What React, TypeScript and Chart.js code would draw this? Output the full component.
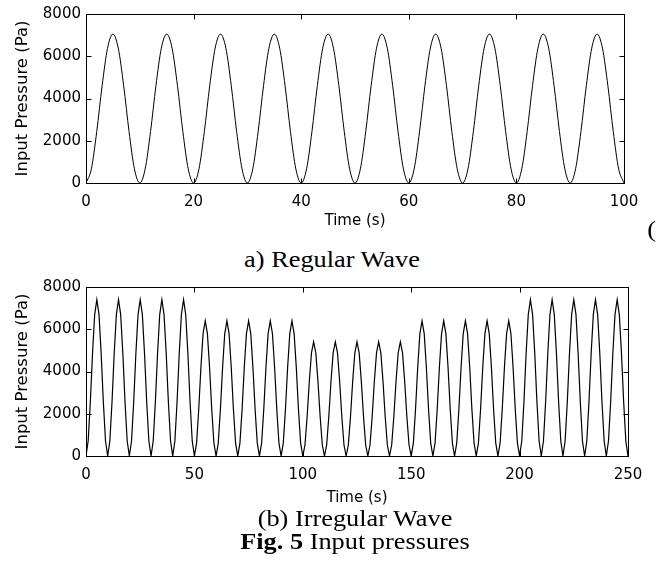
import React, { useEffect, useRef } from 'react';
import { Chart, registerables } from 'chart.js';

Chart.register(...registerables);

// ---------- data ----------
const regularTime: number[] = Array.from({ length: 101 }, (_, i) => i); // seconds, 1 s sampling
const regularPressure: number[] = [
  0, 670, 2440, 4610, 6380, 7050, 6380, 4610, 2440, 670,
  0, 670, 2440, 4610, 6380, 7050, 6380, 4610, 2440, 670,
  0, 670, 2440, 4610, 6380, 7050, 6380, 4610, 2440, 670,
  0, 670, 2440, 4610, 6380, 7050, 6380, 4610, 2440, 670,
  0, 670, 2440, 4610, 6380, 7050, 6380, 4610, 2440, 670,
  0, 670, 2440, 4610, 6380, 7050, 6380, 4610, 2440, 670,
  0, 670, 2440, 4610, 6380, 7050, 6380, 4610, 2440, 670,
  0, 670, 2440, 4610, 6380, 7050, 6380, 4610, 2440, 670,
  0, 670, 2440, 4610, 6380, 7050, 6380, 4610, 2440, 670,
  0, 670, 2440, 4610, 6380, 7050, 6380, 4610, 2440, 670,
  0,
];

const irregularTime: number[] = Array.from({ length: 251 }, (_, i) => i); // seconds, 1 s sampling
const irregularPressure: number[] = [
  0, 710, 2560, 4840, 6690, 7400, 6690, 4840, 2560, 710,
  0, 710, 2560, 4840, 6690, 7400, 6690, 4840, 2560, 710,
  0, 710, 2560, 4840, 6690, 7400, 6690, 4840, 2560, 710,
  0, 710, 2560, 4840, 6690, 7400, 6690, 4840, 2560, 710,
  0, 710, 2560, 4840, 6690, 7400, 6690, 4840, 2560, 710,
  0, 610, 2210, 4190, 5790, 6400, 5790, 4190, 2210, 610,
  0, 610, 2210, 4190, 5790, 6400, 5790, 4190, 2210, 610,
  0, 610, 2210, 4190, 5790, 6400, 5790, 4190, 2210, 610,
  0, 610, 2210, 4190, 5790, 6400, 5790, 4190, 2210, 610,
  0, 610, 2210, 4190, 5790, 6400, 5790, 4190, 2210, 610,
  0, 520, 1870, 3530, 4880, 5400, 4880, 3530, 1870, 520,
  0, 520, 1870, 3530, 4880, 5400, 4880, 3530, 1870, 520,
  0, 520, 1870, 3530, 4880, 5400, 4880, 3530, 1870, 520,
  0, 520, 1870, 3530, 4880, 5400, 4880, 3530, 1870, 520,
  0, 520, 1870, 3530, 4880, 5400, 4880, 3530, 1870, 520,
  0, 610, 2210, 4190, 5790, 6400, 5790, 4190, 2210, 610,
  0, 610, 2210, 4190, 5790, 6400, 5790, 4190, 2210, 610,
  0, 610, 2210, 4190, 5790, 6400, 5790, 4190, 2210, 610,
  0, 610, 2210, 4190, 5790, 6400, 5790, 4190, 2210, 610,
  0, 610, 2210, 4190, 5790, 6400, 5790, 4190, 2210, 610,
  0, 710, 2560, 4840, 6690, 7400, 6690, 4840, 2560, 710,
  0, 710, 2560, 4840, 6690, 7400, 6690, 4840, 2560, 710,
  0, 710, 2560, 4840, 6690, 7400, 6690, 4840, 2560, 710,
  0, 710, 2560, 4840, 6690, 7400, 6690, 4840, 2560, 710,
  0, 710, 2560, 4840, 6690, 7400, 6690, 4840, 2560, 710,
  0,
];

const regularXTicks: number[] = [0, 20, 40, 60, 80, 100];
const irregularXTicks: number[] = [0, 50, 100, 150, 200, 250];
const pressureTicks: number[] = [0, 2000, 4000, 6000, 8000];

const xTitle = 'Time (s)';
const yTitle = 'Input Pressure (Pa)';

// ---------- MATLAB-like box with inward ticks ----------
const boxTicksPlugin = {
  id: 'boxTicks',
  afterDraw(chart: any) {
    const { ctx, chartArea, scales } = chart;
    const L = Math.round(chartArea.left) + 0.5;
    const R = Math.round(chartArea.right) + 0.5;
    const T = Math.round(chartArea.top) + 0.5;
    const B = Math.round(chartArea.bottom) + 0.5;
    const len = 5;
    ctx.save();
    ctx.strokeStyle = '#000';
    ctx.lineWidth = 1;
    ctx.strokeRect(L, T, R - L, B - T);
    ctx.beginPath();
    scales.x.ticks.forEach((t: any) => {
      const px = Math.round(scales.x.getPixelForValue(t.value)) + 0.5;
      ctx.moveTo(px, B);
      ctx.lineTo(px, B - len);
      ctx.moveTo(px, T);
      ctx.lineTo(px, T + len);
    });
    scales.y.ticks.forEach((t: any) => {
      const py = Math.round(scales.y.getPixelForValue(t.value)) + 0.5;
      ctx.moveTo(L, py);
      ctx.lineTo(L + len, py);
      ctx.moveTo(R, py);
      ctx.lineTo(R - len, py);
    });
    ctx.stroke();
    ctx.restore();
  },
};

const FONT = 'DejaVu Sans';

interface WaveProps {
  times: number[];
  values: number[];
  xTicks: number[];
  top: number;
  height: number;
  rightPad: number;
  titlePadBottom: number;
  smooth: boolean;
}

function WaveChart({ times, values, xTicks, top, height, rightPad, titlePadBottom, smooth }: WaveProps) {
  const ref = useRef<HTMLCanvasElement>(null);
  useEffect(() => {
    if (!ref.current) return;
    const chart = new Chart(ref.current, {
      type: 'line',
      data: {
        datasets: [
          {
            data: times.map((t, i) => ({ x: t, y: values[i] })),
            borderColor: '#000',
            borderWidth: smooth ? 1 : 1.2,
            pointRadius: 0,
            fill: false,
            tension: 0,
            cubicInterpolationMode: smooth ? 'monotone' : 'default',
          },
        ],
      },
      options: {
        animation: false,
        responsive: false,
        devicePixelRatio: 1,
        events: [],
        layout: { padding: { top: 13, right: rightPad, left: 0, bottom: 0 } },
        plugins: { legend: { display: false }, tooltip: { enabled: false } },
        scales: {
          x: {
            type: 'linear',
            min: xTicks[0],
            max: xTicks[xTicks.length - 1],
            afterBuildTicks: (s: any) => {
              s.ticks = xTicks.map((v) => ({ value: v }));
            },
            grid: { display: false, drawTicks: false },
            border: { display: false },
            ticks: {
              color: '#000',
              font: { family: FONT, size: 15 },
              padding: 10,
              maxRotation: 0,
              autoSkip: false,
              callback: (v: any) => String(v),
            },
            title: {
              display: true,
              text: xTitle,
              color: '#000',
              font: { family: FONT, size: 15 },
              padding: { top: 0, bottom: titlePadBottom },
            },
            afterFit: (s: any) => {
              s.height = 57;
            },
          },
          y: {
            type: 'linear',
            min: pressureTicks[0],
            max: pressureTicks[pressureTicks.length - 1],
            afterBuildTicks: (s: any) => {
              s.ticks = pressureTicks.map((v) => ({ value: v }));
            },
            grid: { display: false, drawTicks: false },
            border: { display: false },
            ticks: {
              color: '#000',
              font: { family: FONT, size: 15 },
              padding: 5,
              autoSkip: false,
              callback: (v: any) => String(v),
            },
            title: {
              display: true,
              text: yTitle,
              color: '#000',
              font: { family: FONT, size: 16.5 },
              padding: { top: 13, bottom: 0 },
            },
            afterFit: (s: any) => {
              s.width = 86;
            },
          },
        },
      },
      plugins: [boxTicksPlugin],
    } as any);
    return () => chart.destroy();
  }, []);
  return (
    <canvas
      ref={ref}
      width={659}
      height={height}
      style={{ position: 'absolute', left: 0, top, width: 659, height }}
    />
  );
}

const serif = '"Liberation Serif", "Times New Roman", serif';

function Caption({ center, top, children }: { center: number; top: number; children: React.ReactNode }) {
  return (
    <div
      style={{
        position: 'absolute',
        left: center - 200,
        top,
        width: 400,
        textAlign: 'center',
        fontFamily: serif,
        fontSize: 22.5,
        lineHeight: '22.5px',
        color: '#000',
        whiteSpace: 'nowrap',
        transform: 'scaleX(1.17)',
        transformOrigin: 'center',
      }}
    >
      {children}
    </div>
  );
}

export default function App() {
  return (
    <div
      style={{
        position: 'fixed',
        left: 0,
        top: 0,
        width: 659,
        height: 574,
        background: '#fff',
        overflow: 'hidden',
      }}
    >
      <WaveChart
        times={regularTime}
        values={regularPressure}
        xTicks={regularXTicks}
        top={0}
        height={240}
        rightPad={35}
        titlePadBottom={9.5}
        smooth={true}
      />
      <WaveChart
        times={irregularTime}
        values={irregularPressure}
        xTicks={irregularXTicks}
        top={273}
        height={240}
        rightPad={31}
        titlePadBottom={5.5}
        smooth={false}
      />
      <Caption center={331.7} top={249.2}>a) Regular Wave</Caption>
      <div
        style={{
          position: 'absolute',
          left: 648,
          top: 219,
          fontFamily: serif,
          fontSize: 22.5,
          lineHeight: '22.5px',
          color: '#000',
          transform: 'scaleX(1.17)',
        }}
      >
        (
      </div>
      <Caption center={355} top={508}>(b) Irregular Wave</Caption>
      <Caption center={355} top={531.2}>
        <b>Fig. 5</b> Input pressures
      </Caption>
    </div>
  );
}
